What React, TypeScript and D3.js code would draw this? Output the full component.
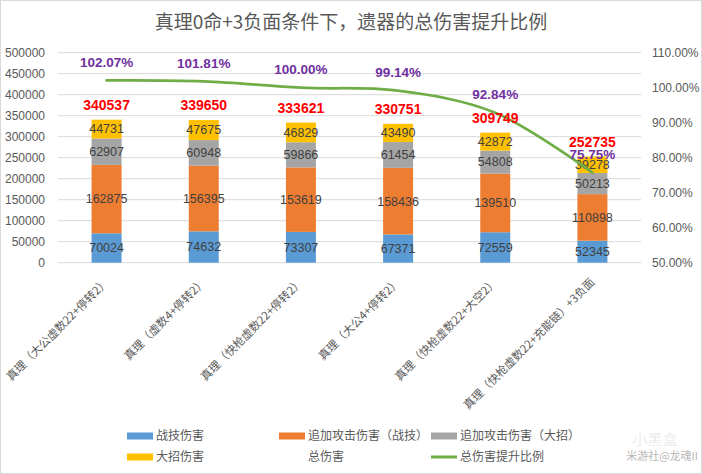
import React from 'react';
import * as d3 from 'd3';

const categories = [
  '真理（大公虚数22+停转2）',
  '真理（虚数4+停转2）',
  '真理（快枪虚数22+停转2）',
  '真理（大公4+停转2）',
  '真理（快枪虚数22+大空2）',
  '真理（快枪虚数22+充能链）+3负面',
];

const skillDmg = [70024, 74632, 73307, 67371, 72559, 52345];
const followSkillDmg = [162875, 156395, 153619, 158436, 139510, 110898];
const followUltDmg = [62907, 60948, 59866, 61454, 54808, 50213];
const ultDmg = [44731, 47675, 46829, 43490, 42872, 39278];
const totalDmg = [340537, 339650, 333621, 330751, 309749, 252735];
const ratio = [102.07, 101.81, 100.0, 99.14, 92.84, 75.75];

const leftTicks = [0, 50000, 100000, 150000, 200000, 250000, 300000, 350000, 400000, 450000, 500000];
const rightTicks = [50, 60, 70, 80, 90, 100, 110];

const seriesNames = ['战技伤害', '追加攻击伤害（战技）', '追加攻击伤害（大招）', '大招伤害'];
const seriesColors = ['#5B9BD5', '#ED7D31', '#A5A5A5', '#FFC000'];
const stackValues = [skillDmg, followSkillDmg, followUltDmg, ultDmg];

const W = 702;
const H = 474;
const FONT = '"Liberation Sans", Arial, "Noto Sans CJK SC", sans-serif';
const CJK = '"Noto Sans CJK SC", "Liberation Sans", sans-serif';

export default function App() {
  const x = d3.scaleBand<string>().domain(categories).range([58, 641]).padding(0);
  const y = d3.scaleLinear().domain([0, 500000]).range([262.7, 52.7]);
  const y2 = d3.scaleLinear().domain([50, 110]).range([262.7, 52.7]);
  const barW = 30;

  const line = d3
    .line<number>()
    .x((_d, i) => x(categories[i])! + x.bandwidth() / 2)
    .y((d) => y2(d))
    .curve(d3.curveCatmullRom.alpha(0.5));

  const legendItems = [
    { name: seriesNames[0], color: seriesColors[0], kind: 'rect', col: 0, row: 0 },
    { name: seriesNames[1], color: seriesColors[1], kind: 'rect', col: 1, row: 0 },
    { name: seriesNames[2], color: seriesColors[2], kind: 'rect', col: 2, row: 0 },
    { name: seriesNames[3], color: seriesColors[3], kind: 'rect', col: 0, row: 1 },
    { name: '总伤害', color: 'none', kind: 'none', col: 1, row: 1 },
    { name: '总伤害提升比例', color: '#70AD47', kind: 'line', col: 2, row: 1 },
  ];
  const legendX = [127, 279, 431];
  const legendY = [436, 457];

  return (
    <div style={{ position: 'absolute', left: 0, top: 0 }}>
      <svg width={W} height={H} style={{ display: 'block' }}>
        <rect x={0.5} y={0.5} width={W - 1} height={H - 1} fill="#fff" stroke="#d9d9d9" />
        <text x={351} y={29} textAnchor="middle" fontSize={19} fill="#595959" fontFamily={CJK}>
          真理0命+3负面条件下，遗器的总伤害提升比例
        </text>

        {/* grid + left axis */}
        {leftTicks.map((t) => (
          <g key={t}>
            <line x1={58} x2={641} y1={y(t)} y2={y(t)} stroke="#d9d9d9" strokeWidth={1} />
            <text x={45} y={y(t)} dy="0.35em" textAnchor="end" fontSize={12} fill="#595959" fontFamily={FONT}>
              {t}
            </text>
          </g>
        ))}
        {rightTicks.map((t) => (
          <text key={t} x={652} y={y2(t)} dy="0.35em" textAnchor="start" fontSize={12} fill="#595959" fontFamily={FONT}>
            {t.toFixed(2)}%
          </text>
        ))}

        {/* stacked bars */}
        {categories.map((c, i) => {
          const cx = x(c)! + x.bandwidth() / 2;
          let acc = 0;
          return (
            <g key={c}>
              {stackValues.map((vals, s) => {
                const v = vals[i];
                const y0 = y(acc);
                const y1 = y(acc + v);
                acc += v;
                return (
                  <g key={s}>
                    <rect x={cx - barW / 2} y={y1} width={barW} height={y0 - y1} fill={seriesColors[s]} />
                    <text x={cx} y={(y0 + y1) / 2} dy="0.35em" textAnchor="middle" fontSize={12.5} fill="#404040" fontFamily={FONT}>
                      {v}
                    </text>
                  </g>
                );
              })}
            </g>
          );
        })}

        {/* ratio line */}
        <path d={line(ratio) || ''} fill="none" stroke="#70AD47" strokeWidth={2.75} strokeLinecap="round" />

        {/* total labels */}
        {categories.map((c, i) => {
          const cx = x(c)! + x.bandwidth() / 2;
          return (
            <text key={c} x={cx} y={y(totalDmg[i]) - 14.5} dy="0.35em" textAnchor="middle" fontSize={14} fontWeight="bold" fill="#FF0000" fontFamily={FONT}>
              {totalDmg[i]}
            </text>
          );
        })}

        {/* ratio labels */}
        {categories.map((c, i) => {
          const cx = x(c)! + x.bandwidth() / 2;
          return (
            <text key={c} x={cx} y={y2(ratio[i]) - 18} dy="0.35em" textAnchor="middle" fontSize={13.5} fontWeight="bold" fill="#7030A0" fontFamily={FONT}>
              {ratio[i].toFixed(2)}%
            </text>
          );
        })}

        {/* category labels */}
        {categories.map((c) => {
          const cx = x(c)! + x.bandwidth() / 2;
          return (
            <text key={c} transform={`translate(${cx + 3},${283}) rotate(-45)`} textAnchor="end" fontSize={11.4} fill="#595959" fontFamily={CJK}>
              {c}
            </text>
          );
        })}

        {/* legend */}
        {legendItems.map((it) => {
          const lx = legendX[it.col];
          const ly = legendY[it.row];
          return (
            <g key={it.name}>
              {it.kind === 'rect' && <rect x={lx} y={ly - 3.5} width={26} height={7} fill={it.color} />}
              {it.kind === 'line' && <line x1={lx} x2={lx + 26} y1={ly} y2={ly} stroke={it.color} strokeWidth={3} />}
              <text x={lx + 29} y={ly} dy="0.35em" fontSize={12} fill="#595959" fontFamily={CJK}>
                {it.name}
              </text>
            </g>
          );
        })}

        {/* watermark */}
        <text x={655} y={445} textAnchor="middle" fontSize={15} fill="#ececec" fontFamily={CJK}>
          小黑盒
        </text>
        <text x={698} y={460} textAnchor="end" fontSize={11} fill="#b8b8b8" fontFamily={CJK}>
          米游社@龙魂II
        </text>
      </svg>
    </div>
  );
}
